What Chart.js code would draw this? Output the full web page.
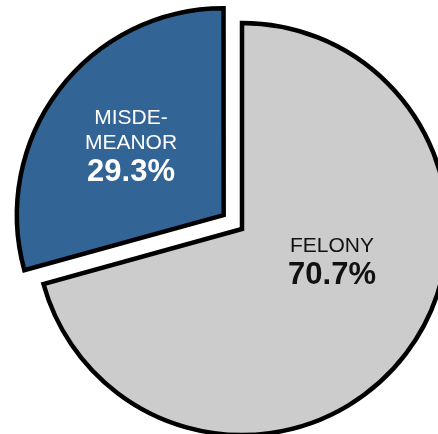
<!DOCTYPE html>
<html>
<head>
<meta charset="utf-8">
<style>
  html, body { margin: 0; padding: 0; overflow: hidden; background: #fff; }
  #wrap { position: absolute; left: 0; top: 0; width: 484px; height: 458px; }
</style>
</head>
<body>
<div id="wrap"><canvas id="pie"></canvas></div>
<script src="https://cdn.jsdelivr.net/npm/chart.js@4.4.1/dist/chart.umd.min.js"></script>
<script>
  const categories = ['FELONY', 'MISDEMEANOR'];
  const labelLines = [['FELONY'], ['MISDE-', 'MEANOR']];
  const shares = [70.7, 29.3];
  const sliceColors = ['#cccccc', '#326495'];
  const textColors = ['#111111', '#ffffff'];

  // label anchor as fraction of radius from the slice vertex
  const anchors = [[0.437, 0.11], [-0.45, -0.44]];

  const sliceLabels = {
    id: 'sliceLabels',
    afterDatasetsDraw(chart) {
      const ctx = chart.ctx;
      const meta = chart.getDatasetMeta(0);
      meta.data.forEach((arc, i) => {
        const p = arc.getProps(['x', 'y', 'startAngle', 'endAngle', 'outerRadius']);
        const mid = (p.startAngle + p.endAngle) / 2;
        // Chart.js moves an offset arc by offset / 4
        const off = (arc.options.offset || 0) / 4;
        const vx = p.x + Math.cos(mid) * off;
        const vy = p.y + Math.sin(mid) * off;
        const ax = vx + anchors[i][0] * p.outerRadius;
        let y = vy + anchors[i][1] * p.outerRadius;
        ctx.save();
        ctx.fillStyle = textColors[i];
        ctx.textAlign = 'center';
        ctx.textBaseline = 'alphabetic';
        ctx.font = '21px "Liberation Sans", Arial, sans-serif';
        labelLines[i].forEach(line => {
          ctx.fillText(line, ax, y);
          y += 25;
        });
        y += 7;
        ctx.font = 'bold 31px "Liberation Sans", Arial, sans-serif';
        ctx.fillText(shares[i].toFixed(1) + '%', ax, y);
        ctx.restore();
      });
    }
  };

  new Chart(document.getElementById('pie'), {
    type: 'pie',
    data: {
      labels: categories,
      datasets: [{
        data: shares,
        backgroundColor: sliceColors,
        borderColor: '#000000',
        borderWidth: 4.5,
        borderJoinStyle: 'miter',
        offset: [0, 92],
        hoverOffset: 0,
      }],
    },
    options: {
      responsive: true,
      maintainAspectRatio: false,
      animation: false,
      events: [],
      radius: 206,
      rotation: 0,
      layout: { padding: 0 },
      plugins: {
        legend: { display: false },
        tooltip: { enabled: false },
      },
    },
    plugins: [sliceLabels],
  });
</script>
</body>
</html>
